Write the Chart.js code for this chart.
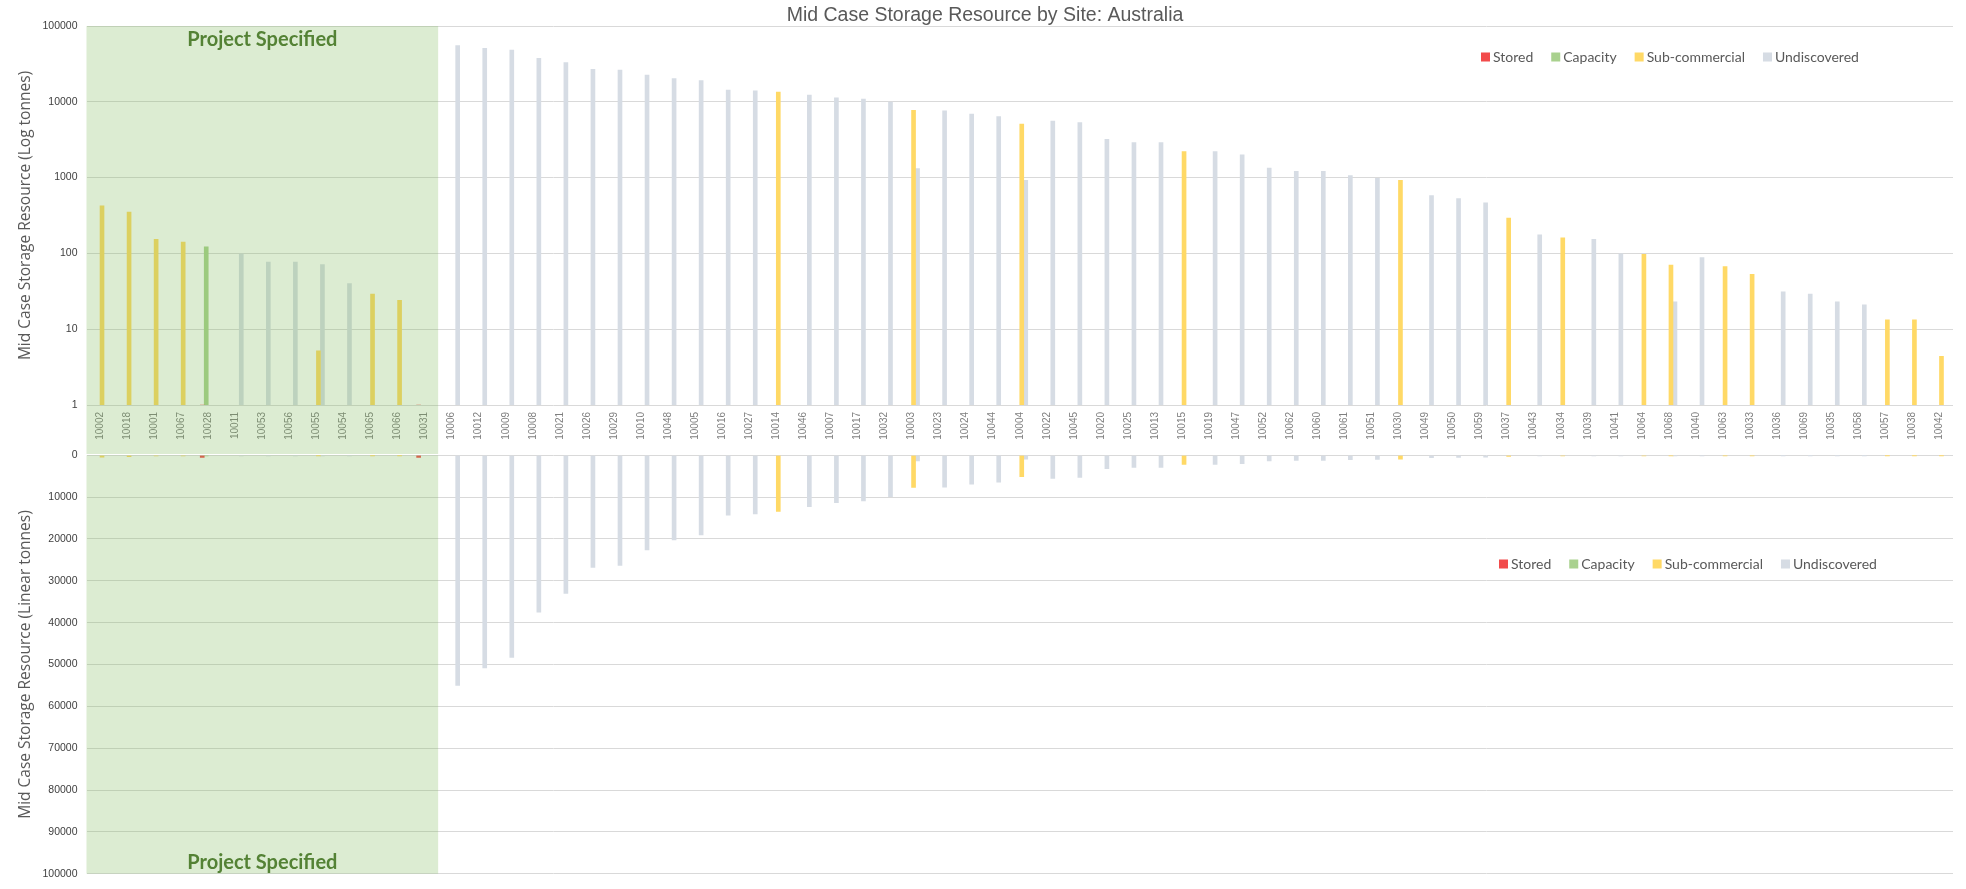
<!DOCTYPE html>
<html>
<head>
<meta charset="utf-8">
<script src="https://cdn.jsdelivr.net/npm/chart.js@4.4.0/dist/chart.umd.min.js"></script>
<style>
html,body{margin:0;padding:0;background:#ffffff;}
#wrap{position:relative;width:1966px;height:889px;overflow:hidden;background:#ffffff;}
#box1{position:absolute;left:0;top:0;width:1966px;height:454px;}
#box2{position:absolute;left:0;top:440px;width:1966px;height:449px;}
</style>
</head>
<body>
<div id="wrap">
  <div id="box1"><canvas id="c1"></canvas></div>
  <div id="box2"><canvas id="c2"></canvas></div>
</div>
<script>
// ---------------- DATA ----------------
const chartTitle = 'Mid Case Storage Resource by Site: Australia';
const projectLabel = 'Project Specified';
const projectCount = 13; // first 13 sites are project specified

const categories = [
  '10002','10018','10001','10067','10028','10011','10053','10056','10055','10054','10065','10066','10031',
  '10006','10012','10009','10008','10021','10026','10029','10010','10048','10005','10016','10027',
  '10014','10046','10007','10017','10032','10003','10023','10024','10044','10004','10022','10045',
  '10020','10025','10013','10015','10019','10047','10052','10062','10060','10061','10051','10030',
  '10049','10050','10059','10037','10043','10034','10039','10041','10064','10068','10040','10063',
  '10033','10036','10069','10035','10058','10057','10038','10042'
];

const seriesNames = ['Stored','Capacity','Sub-commercial','Undiscovered'];
const seriesColors = ['#f24b4b','#a9d18e','#ffd966','#d6dce4'];

const stored = [
  null,null,null,null,0.5,null,null,null,null,null,null,null,0.5,
  null,null,null,null,null,null,null,null,null,null,null,null,
  null,null,null,null,null,null,null,null,null,null,null,null,
  null,null,null,null,null,null,null,null,null,null,null,null,
  null,null,null,null,null,null,null,null,null,null,null,null,
  null,null,null,null,null,null,null,null
];

const capacity = [
  null,null,null,null,122,null,null,null,null,null,null,null,null,
  null,null,null,null,null,null,null,null,null,null,null,null,
  null,null,null,null,null,null,null,null,null,null,null,null,
  null,null,null,null,null,null,null,null,null,null,null,null,
  null,null,null,null,null,null,null,null,null,null,null,null,
  null,null,null,null,null,null,null,null
];

const subCommercial = [
  425,352,153,141,null,null,null,null,5.2,null,29,24,null,
  null,null,null,null,null,null,null,null,null,null,null,null,
  13400,null,null,null,null,7700,null,null,null,5100,null,null,
  null,null,null,2200,null,null,null,null,null,null,null,920,
  null,null,null,292,null,161,null,null,97,70,null,67,
  53,null,null,null,null,13.3,13.3,4.4
];

const undiscovered = [
  null,null,null,null,null,99,77,77,71,40,null,null,null,
  55000,50800,48300,37500,33000,26800,26300,22600,20200,19000,14300,14000,
  null,12300,11300,10900,9900,1320,7600,6900,6400,920,5550,5300,
  3200,2900,2900,null,2200,2000,1340,1210,1210,1060,980,null,
  580,530,466,null,176,null,153,99,null,23,88,null,
  null,31,29,23,21,null,null,null
];

const logTicks = [1,10,100,1000,10000,100000];
const linearTicks = [0,10000,20000,30000,40000,50000,60000,70000,80000,90000,100000];

const logAxisTitle = 'Mid Case Storage Resource (Log tonnes)';
const linearAxisTitle = 'Mid Case Storage Resource (Linear tonnes)';

// ---------------- HELPERS ----------------
const seriesData = [stored, capacity, subCommercial, undiscovered];

function makeDatasets(isBottom){
  return seriesNames.map((n,i)=>({
    label:n,
    data:seriesData[i],
    backgroundColor:seriesColors[i],
    borderWidth:0,
    barThickness:4,
    clip:0,
    minBarLength:(isBottom && i===0) ? 2 : 0
  }));
}

function drawLegend(ctx, x, y){
  ctx.save();
  ctx.font = '14px Lato';
  ctx.textBaseline = 'middle';
  ctx.textAlign = 'left';
  seriesNames.forEach((n,i)=>{
    ctx.fillStyle = seriesColors[i];
    ctx.fillRect(x, y-4.5, 9, 9);
    ctx.fillStyle = '#595959';
    ctx.fillText(n, x+12, y+0.5);
    x += 12 + ctx.measureText(n).width + 18;
  });
  ctx.restore();
}

const projectPlugin = {
  id:'projectRegion',
  afterDraw(chart, args, opts){
    const {ctx, chartArea, scales} = chart;
    const x = scales.x;
    const edge = (x.getPixelForValue(projectCount-1) + x.getPixelForValue(projectCount)) / 2;
    const top = chartArea.top;
    const bottom = opts.toCanvasBottom ? chart.height : chartArea.bottom;
    ctx.save();
    ctx.fillStyle = 'rgba(120,180,80,0.26)';
    ctx.fillRect(chartArea.left, top, edge - chartArea.left, bottom - top);
    ctx.fillStyle = '#548235';
    ctx.font = 'bold 20px Lato';
    ctx.textAlign = 'center';
    ctx.textBaseline = 'middle';
    ctx.fillText(projectLabel, (chartArea.left + edge) / 2, opts.labelY);
    ctx.restore();
    if (opts.legendX !== undefined) drawLegend(ctx, opts.legendX, opts.legendY);
    if (opts.title) {
      ctx.save();
      ctx.font = '19.5px "Liberation Sans"';
      ctx.fillStyle = '#595959';
      ctx.textAlign = 'center';
      ctx.textBaseline = 'middle';
      ctx.fillText(opts.title, 985, 16);
      ctx.restore();
    }
  }
};

const tickFont = {family:'Liberation Sans', size:10.5};
const titleFont = {family:'Open Sans', size:15.5};

// ---------------- TOP (LOG) CHART ----------------
new Chart(document.getElementById('c1'), {
  type:'bar',
  data:{labels:categories, datasets:makeDatasets(false)},
  options:{
    responsive:true, maintainAspectRatio:false, animation:false,
    layout:{padding:{top:26, right:13, bottom:0, left:0}},
    plugins:{
      legend:{display:false}, tooltip:{enabled:false},
      projectRegion:{toCanvasBottom:true, labelY:40, legendX:1481, legendY:57, title:chartTitle}
    },
    scales:{
      x:{
        grid:{display:false, drawTicks:false},
        border:{display:false},
        ticks:{autoSkip:false, minRotation:90, maxRotation:90, padding:7, color:'#7f7f7f', font:{family:'Liberation Sans', size:10}},
        afterFit(s){ s.height = 49; }
      },
      y:{
        type:'logarithmic', min:1, max:100000,
        afterBuildTicks(s){ s.ticks = logTicks.map(v=>({value:v})); },
        ticks:{callback:(v)=>String(v), padding:9, color:'#404040', font:tickFont},
        grid:{color:'#d9d9d9', drawTicks:false},
        border:{display:false},
        title:{display:true, text:logAxisTitle, color:'#595959', font:titleFont, padding:{top:16, bottom:0}},
        afterFit(s){ s.width = 86.5; }
      }
    }
  },
  plugins:[projectPlugin]
});

// ---------------- BOTTOM (LINEAR, REVERSED) CHART ----------------
new Chart(document.getElementById('c2'), {
  type:'bar',
  data:{labels:categories, datasets:makeDatasets(true)},
  options:{
    responsive:true, maintainAspectRatio:false, animation:false,
    layout:{padding:{top:14, right:13, bottom:6, left:0}},
    plugins:{
      legend:{display:false}, tooltip:{enabled:false},
      projectRegion:{toCanvasBottom:false, labelY:423, legendX:1499, legendY:124}
    },
    scales:{
      x:{display:false},
      y:{
        type:'linear', reverse:true, min:0, max:100000,
        afterBuildTicks(s){ s.ticks = linearTicks.map(v=>({value:v})); },
        ticks:{callback:(v)=>String(v), padding:9, color:'#404040', font:tickFont},
        grid:{color:'#d9d9d9', drawTicks:false},
        border:{display:false},
        title:{display:true, text:linearAxisTitle, color:'#595959', font:titleFont, padding:{top:16, bottom:0}},
        afterFit(s){ s.width = 86.5; }
      }
    }
  },
  plugins:[projectPlugin]
});
</script>
</body>
</html>
